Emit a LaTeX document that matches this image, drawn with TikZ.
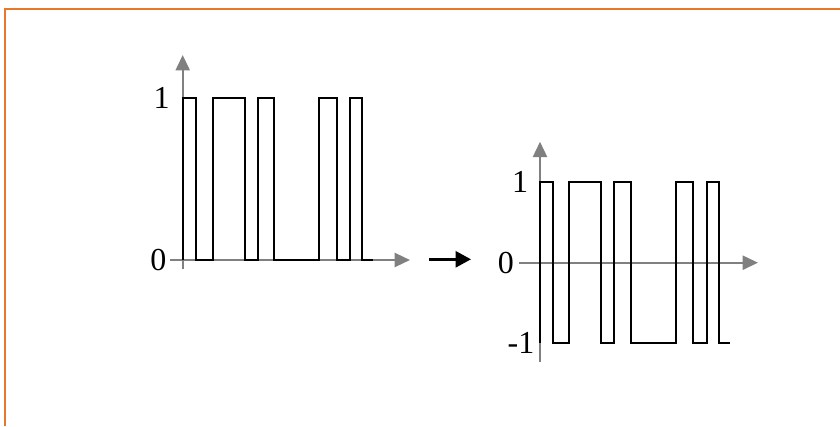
\documentclass[tikz,border=0pt]{standalone}
\usepackage{xcolor}
\usepackage{fontspec}
\setmainfont{Liberation Serif}
\usetikzlibrary{arrows.meta, positioning}
\definecolor{frame}{HTML}{E8772A}
\definecolor{axisgray}{HTML}{808080}

\begin{document}
\begin{tikzpicture}[
    x=0.75pt, y=0.75pt,
    font=\fontsize{24}{28}\selectfont,
    ax/.style={-{Triangle[length=11.5pt, width=10.5pt]}, axisgray, line width=1.7pt},
    sig/.style={black, line width=1.4pt},
    conv/.style={-{Triangle[length=11.5pt, width=12pt]}, black, line width=1.9pt},
    lbl/.style={inner sep=0pt},
    border/.style={frame, line width=2.2pt}
  ]
    \useasboundingbox (0,0) rectangle (840,426);
    \draw[border] (5,0) -- (5,417) -- (840,417);

    % unipolar signal
    \coordinate (ua) at (170,166);   \coordinate (ub) at (410,166);
    \coordinate (uc) at (182.7,157); \coordinate (ud) at (182.7,371);
    \draw[ax] (ua) -- (ub);
    \draw[ax] (uc) -- (ud);
    \node[lbl] (u1) at (161.7,328) {1};
    \node[lbl] (u0) at (158.4,166) {0};
    \draw[sig] (183.3,166) |- (196,327.7) |- (212.7,166) |- (245,327.7) |- (257.7,166)
      |- (274.3,327.7) |- (319.3,166) |- (337.3,327.7) |- (350,166) |- (362.3,327.7) |- (373.3,166);

    \coordinate (m1) at (429,166.7); \coordinate (m2) at (471,166.7);
    \draw[conv] (m1) -- (m2);

    % bipolar signal
    \coordinate (ba) at (519.3,163.3); \coordinate (bb) at (758,163.3);
    \coordinate (bc) at (540,64.3);    \coordinate (bd) at (540,284.3);
    \draw[ax] (ba) -- (bb);
    \draw[ax] (bc) -- (bd);
    \node[lbl] (b1) at (520,243.7) {1};
    \node[lbl] (b0) at (505.8,163.3) {0};
    \node[lbl] (bm) at (521,83.3) {-1};
    \draw[sig] (540,83.3) |- (552.7,243.7) |- (569,83.3) |- (600.7,243.7) |- (614.3,83.3)
      |- (631,243.7) |- (676,83.3) |- (693.3,243.7) |- (706.7,83.3) |- (719,243.7) |- (730,83.3);
  \end{tikzpicture}
\end{document}
